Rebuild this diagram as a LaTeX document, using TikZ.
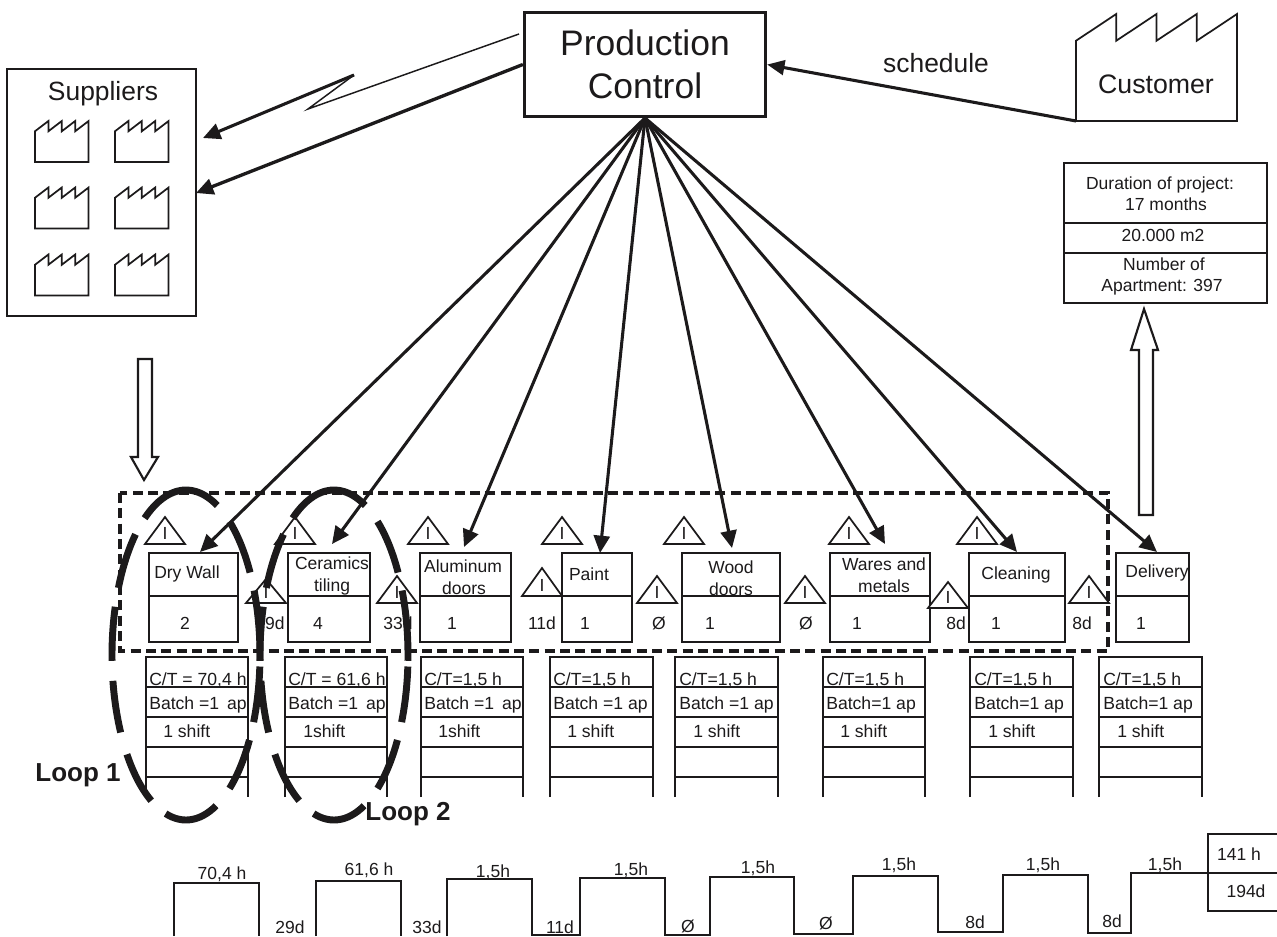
\documentclass[tikz,border=0pt]{standalone}
\usepackage{fontspec}
\setmainfont{Liberation Sans}
\usetikzlibrary{arrows.meta,fit}
\definecolor{ink}{HTML}{1C1A1B}
\newcounter{tn}
\tikzset{
  px/.code={\pgfmathsetmacro\fsz{#1*0.75}\pgfmathsetmacro\hh{#1*0.54}\tikzset{font=\fontsize{\fsz}{\fsz}\selectfont,text height=\hh pt,text depth=0pt}},
  lbl/.style={inner sep=0pt,text=ink,px=17.5},
  thin line/.style={line width=1.3pt,draw=ink},
  cell/.style={inner sep=0pt,draw=ink,line width=1.7pt},
  fan/.style={line width=2.3pt,draw=ink,-{Triangle[length=13pt,width=12pt,fill=ink]},shorten >=0pt},
  loopdash/.style={line width=5.2pt,draw=ink,line cap=butt},
  hollow/.style={line width=1.6pt,draw=ink,fill=white,line join=miter},
  dashbox/.style={line width=2.8pt,draw=ink,dash pattern=on 7.5pt off 4pt}
}
\newcommand\tx[4][]{\stepcounter{tn}\node[lbl,#1] (t\arabic{tn}) at (#2,#3) {#4};}
\newcommand\factory[5]{\begin{scope}[shift={(#2,#3)},x=#4*0.75pt,y=#5*0.75pt]
  \draw[#1,line join=miter] (0,0)--(0,.75)--(1,1)--(1,.75)--(2,1)--(2,.75)--(3,1)--(3,.75)--(4,1)--(4,0)--cycle;
\end{scope}}
\newcommand\proc[3]{%
  \node[cell,fit={(#2,553)(#3,596)}] (#1) {};
  \node[cell,fit={(#2,596)(#3,642)}] (#1L) {};}
\newcommand\tri[4]{% cx apex base halfwidth
  \draw[thin line,fill=white,line join=miter] (#1-#4,#3)--(#1,#2)--(#1+#4,#3)--cycle;
  \tx{#1}{#3-11}{I}}
\newcommand\loopset[1]{%
  \foreach \a/\b in {236/295,306/330,337/362,4/24,31/54,66/106,118/143,152/171,178/197,204/227}
    \draw[loopdash] plot[domain=\a:\b,samples=16,smooth] ({#1+74*cos(\x)},{655+165*sin(\x)});}
\newcommand\datacol[7]{% x1 x2 textx shiftx ct batch shift
  \draw[thin line,line width=1.6pt] (#1,797)--(#1,657)--(#2,657)--(#2,797);
  \foreach \yy in {687,717,747,777} \draw[thin line,line width=1.6pt] (#1,\yy)--(#2,\yy);
  \tx[anchor=west,px=17.6]{#3}{679}{#5}
  \tx[anchor=west,px=17.6]{#3}{703}{#6}
  \tx[anchor=west,px=17.6]{#4}{731}{#7}}
\begin{document}
\begin{tikzpicture}[x=0.75pt,y=-0.75pt]
\useasboundingbox (0,0) rectangle (1277,936);
\fill[white] (0,0) rectangle (1277,936);

% dashed value-stream frame
\draw[dashbox] (120,493) rectangle (1108,651);

% production control and customer
\node[draw=ink,line width=2.2pt,inner sep=0pt,minimum width=181pt,minimum height=78.5pt,align=center,
      text=ink,font=\fontsize{26.6}{32.25}\selectfont] (pc) at (645,64.5) {Production\\Control};
\factory{thin line}{1076}{121}{40.25}{107}
\coordinate (cust) at (1076,121);
\tx[px=26.7]{1156}{84}{Customer}
\tx[px=26.4]{936}{63}{schedule}
\draw[line width=2.3pt,draw=ink,-{Triangle[length=13pt,width=11pt,fill=ink]}] (cust) -- (pc.east);

% suppliers
\node[inner sep=0pt,draw=ink,line width=1.5pt,fit={(7,69)(196,316)}] (sup) {};
\tx[px=26.4]{103}{91}{Suppliers}
\foreach \fy in {162,228.5,295.5}{
  \factory{thin line}{35}{\fy}{13.4}{41}
  \factory{thin line}{115}{\fy}{13.4}{41}
}
\coordinate (l0) at (519,34);
\coordinate (l1) at (308,109);
\coordinate (l2) at (354,75);
\coordinate (l3) at (203,138);
\coordinate (supin) at (196,193);
\draw[line width=1.1pt,draw=ink] (l0)--(l1)--(l2);
\draw[line width=2.3pt,draw=ink,-{Triangle[length=13pt,width=12pt,fill=ink]}] (l2)--(l3);
\draw[line width=2.5pt,draw=ink,-{Triangle[length=13pt,width=12pt,fill=ink]}] (pc.west)--(supin);

% hollow arrows
\draw[hollow] (138,359)--(152,359)--(152,457)--(158,457)--(144,480)--(131,457)--(138,457)--cycle;
\draw[hollow] (1139,515)--(1153,515)--(1153,350)--(1158,350)--(1144,309)--(1131,350)--(1139,350)--cycle;

% info box
\node[cell,fit={(1064,163)(1267,223)}] (i1) {};
\node[cell,fit={(1064,223)(1267,253)}] (i2) {};
\node[cell,fit={(1064,253)(1267,303)}] (i3) {};
\tx{1160}{183}{Duration of project:}
\tx{1166}{204}{17 months}
\tx{1163}{235}{20.000 m2}
\tx{1164}{264}{Number of}
\tx{1162}{285}{Apartment: 397}

% process boxes
\proc{dw}{149}{238}
\proc{ce}{288}{370}
\proc{al}{420}{511}
\proc{pa}{562}{632}
\proc{wo}{682}{780}
\proc{wa}{830}{930}
\proc{cl}{969}{1065}
\proc{de}{1116}{1189}

\tx{187}{572}{Dry Wall}
\tx{332}{563}{Ceramics}
\tx{332}{585}{tiling}
\tx{463}{566}{Aluminum}
\tx{464}{588}{doors}
\tx{589}{574}{Paint}
\tx{731}{567}{Wood}
\tx{731}{589}{doors}
\tx{884}{564}{Wares and}
\tx{884}{586}{metals}
\tx{1016}{573}{Cleaning}
\tx{1157}{571}{Delivery}

\foreach \vx/\vt in {185/2,318/4,452/1,585/1,710/1,857/1,996/1,1141/1}{\tx{\vx}{623}{\vt}}
\foreach \vx/\vt in {270/29d,398/33d,542/11d,659/Ø,806/Ø,956/8d,1082/8d}{\tx{\vx}{623}{\vt}}

% inventory triangles
\foreach \cx in {165,295,428,562,684,849,977}{\tri{\cx}{517}{544}{20}}
\tri{266}{579}{603}{20}
\tri{397}{576}{603}{20}
\tri{542}{568}{596}{20}
\tri{657}{576}{603}{20}
\tri{805}{576}{603}{20}
\tri{948}{582}{608}{20}
\tri{1089}{576}{603}{20}

% fan of control lines
\coordinate (pcb) at (645,118);
\coordinate (in1) at (200,552);
\coordinate (in2) at (332,544);
\coordinate (in3) at (464,547);
\coordinate (in4) at (600,553);
\coordinate (in5) at (732,548);
\coordinate (in6) at (885,544);
\coordinate (in7) at (1017,552);
\coordinate (in8) at (1157,552);
\foreach \i in {1,...,8}{\draw[fan] (pcb) -- (in\i);}

% data boxes
\datacol{146}{248}{149}{163}{C/T = 70,4 h}{Batch =1\, ap}{1 shift}
\datacol{285}{387}{288}{303}{C/T = 61,6 h}{Batch =1\, ap}{1shift}
\datacol{421}{523}{424}{438}{C/T=1,5 h}{Batch =1\, ap}{1shift}
\datacol{550}{653}{553}{567}{C/T=1,5 h}{Batch =1 ap}{1 shift}
\datacol{675}{778}{679}{693}{C/T=1,5 h}{Batch =1 ap}{1 shift}
\datacol{823}{925}{826}{840}{C/T=1,5 h}{Batch=1 ap}{1 shift}
\datacol{970}{1073}{974}{988}{C/T=1,5 h}{Batch=1 ap}{1 shift}
\datacol{1099}{1202}{1103}{1117}{C/T=1,5 h}{Batch=1 ap}{1 shift}

% timeline
\draw[thin line,line width=1.6pt,line join=miter]
  (174,936)--(174,883)--(259,883)--(259,936);
\draw[thin line,line width=1.6pt,line join=miter]
  (316,936)--(316,881)--(401,881)--(401,936);
\draw[thin line,line width=1.6pt,line join=miter]
  (447,936)--(447,879)--(532,879)--(532,935)--(580,935)--(580,878)--(665,878)--(665,935)--(710,935)--(710,877)
  --(794,877)--(794,934)--(853,934)--(853,876)--(938,876)--(938,932)--(1003,932)--(1003,875)--(1088,875)
  --(1088,933)--(1131,933)--(1131,873)--(1208,873);
\draw[thin line,line width=1.6pt,line join=miter] (1277,834)--(1208,834)--(1208,911)--(1277,911);
\draw[thin line,line width=1.6pt] (1208,873)--(1277,873);
\tx{222}{873}{70,4 h}
\tx{369}{869}{61,6 h}
\tx{493}{871}{1,5h}
\tx{631}{869}{1,5h}
\tx{758}{867}{1,5h}
\tx{899}{864}{1,5h}
\tx{1043}{864}{1,5h}
\tx{1165}{864}{1,5h}
\tx{290}{927.5}{29d}
\tx{427}{927.5}{33d}
\tx{560}{927.5}{11d}
\tx{688}{926}{Ø}
\tx{826}{923}{Ø}
\tx{975}{922}{8d}
\tx{1112}{921}{8d}
\tx{1239}{854}{141 h}
\tx{1246}{891}{194d}

% loops
\loopset{186}
\loopset{334}
\tx[px=26,font=\bfseries\fontsize{19.5}{19.5}\selectfont]{78}{772}{Loop 1}
\tx[px=26,font=\bfseries\fontsize{19.5}{19.5}\selectfont]{408}{811}{Loop 2}
\end{tikzpicture}
\end{document}
